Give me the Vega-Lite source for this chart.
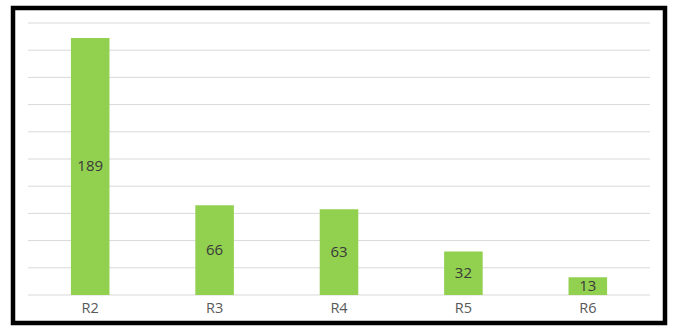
{
  "$schema": "https://vega.github.io/schema/vega-lite/v6.json",
  "autosize": {"type": "none"},
  "padding": {"left": 13, "top": 8, "right": 15, "bottom": 8},
  "width": 652,
  "height": 315,
  "background": "white",
  "config": {
    "view": {"stroke": "black", "strokeWidth": 4.5},
    "font": "Open Sans"
  },
  "datasets": {
    "bars": [
      {"region": "R2", "value": 189},
      {"region": "R3", "value": 66},
      {"region": "R4", "value": 63},
      {"region": "R5", "value": 32},
      {"region": "R6", "value": 13}
    ],
    "grid": [
      {"v": 0}, {"v": 20}, {"v": 40}, {"v": 60}, {"v": 80}, {"v": 100},
      {"v": 120}, {"v": 140}, {"v": 160}, {"v": 180}, {"v": 200}
    ]
  },
  "layer": [
    {
      "data": {"name": "grid"},
      "mark": {"type": "rule", "color": "#d9d9d9", "strokeWidth": 1},
      "encoding": {
        "x": {"datum": 0, "type": "quantitative", "scale": {"domain": [-0.0241, 1.024], "nice": false, "zero": false}, "axis": null},
        "x2": {"datum": 1},
        "y": {"field": "v", "type": "quantitative", "scale": {"domain": [-20.59, 211.03], "nice": false, "zero": false}, "axis": null}
      }
    },
    {
      "data": {"name": "bars"},
      "encoding": {
        "x": {
          "field": "region", "type": "nominal", "sort": null,
          "scale": {"paddingInner": 0.69, "paddingOuter": 0.4655},
          "axis": {"title": null, "domain": false, "ticks": false, "offset": -28, "labelPadding": 6, "labelFontSize": 14.5, "labelColor": "#595959", "labelAngle": 0, "labelFont": "Open Sans"}
        }
      },
      "layer": [
        {
          "mark": {"type": "bar", "color": "#92D050"},
          "encoding": {
            "y": {"field": "value", "type": "quantitative", "axis": null}
          }
        },
        {
          "transform": [{"calculate": "datum.value / 2", "as": "mid"}],
          "mark": {"type": "text", "fontSize": 15, "color": "#3a3a3a", "baseline": "middle", "align": "center"},
          "encoding": {
            "y": {"field": "mid", "type": "quantitative", "axis": null},
            "text": {"field": "value", "type": "quantitative"}
          }
        }
      ]
    }
  ],
  "resolve": {"scale": {"x": "independent"}}
}
